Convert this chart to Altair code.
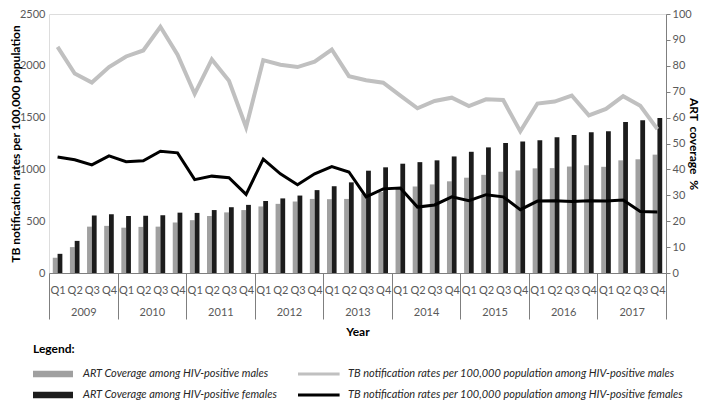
import json
import altair as alt
import pandas as pd

years = ["2009", "2010", "2011", "2012", "2013", "2014", "2015", "2016", "2017"]
quarters = ["Q1", "Q2", "Q3", "Q4"]

# ART coverage (%), right axis
art_males = [5.9, 10.0, 17.9, 18.2, 17.5, 17.8, 17.9, 19.5, 20.4, 22.0, 23.4, 24.3,
             25.7, 26.7, 27.6, 28.6, 28.5, 28.6, 30.7, 31.3, 32.6, 33.4, 34.2, 35.4,
             36.8, 37.9, 39.1, 39.6, 40.4, 40.5, 41.1, 41.6, 41.0, 43.5, 43.9, 45.7]
art_females = [7.4, 12.4, 22.2, 22.7, 22.0, 22.1, 22.3, 23.3, 23.2, 24.3, 25.4, 26.3,
               27.8, 28.8, 29.9, 32.0, 33.5, 35.0, 39.5, 40.8, 42.2, 42.8, 43.5, 45.0,
               46.8, 48.5, 50.2, 50.8, 51.3, 52.4, 53.3, 54.3, 54.7, 58.3, 59.0, 59.8]

# TB notification rates per 100,000, left axis
tb_males = [2182, 1926, 1838, 1988, 2090, 2148, 2377, 2108, 1729, 2062, 1856, 1407,
            2055, 2010, 1988, 2040, 2157, 1900, 1861, 1837, 1713, 1590, 1660, 1692,
            1612, 1676, 1670, 1367, 1636, 1655, 1713, 1522, 1584, 1707, 1614, 1389]
tb_females = [1120, 1093, 1043, 1130, 1074, 1083, 1176, 1160, 901, 935, 920, 759,
              1099, 957, 852, 957, 1028, 975, 735, 812, 821, 636, 657, 735,
              698, 756, 735, 611, 694, 698, 691, 698, 694, 704, 593, 590]

S_ART_M = "ART Coverage among HIV-positive males"
S_ART_F = "ART Coverage among HIV-positive females"
S_TB_M = "TB notification rates per 100,000 population among HIV-positive males"
S_TB_F = "TB notification rates per 100,000 population among HIV-positive females"

rows = []
for i in range(len(art_males)):
    base = dict(idx=i, year=years[i // 4], quarter=quarters[i % 4])
    rows.append(dict(base, series=S_ART_M, kind="bar", value=art_males[i]))
    rows.append(dict(base, series=S_ART_F, kind="bar", value=art_females[i]))
    rows.append(dict(base, series=S_TB_M, kind="line", value=tb_males[i]))
    rows.append(dict(base, series=S_TB_F, kind="line", value=tb_females[i]))
df = pd.DataFrame(rows)

N = len(art_males)
W, H = 617, 259
FONT = "Lato"
LABEL_C = "#595959"
AXIS_C = "#7f7f7f"

order = [S_ART_M, S_ART_F, S_TB_M, S_TB_F]
colors = ["#a0a0a0", "#1c1c1c", "#c0c0c0", "#000000"]
bar_path = "M-1,-0.16H1V0.16H-1Z"
line_path = "M-1.08,-0.075H1.08V0.075H-1.08Z"

def cscale():
    return alt.Scale(domain=order, range=colors)

xscale = alt.Scale(domain=[0, N], nice=False, zero=False)

quarter_axis = alt.Axis(
    orient="bottom", values=[i + 0.5 for i in range(N)],
    labelExpr=json.dumps(quarters) + "[floor(datum.value) % 4]",
    ticks=False, domain=True, domainColor=AXIS_C, grid=False,
    labelPadding=11, labelFontSize=11, labelColor=LABEL_C, labelFont=FONT,
    labelFlush=False, labelOverlap=False, labelAngle=0, title=None,
)
sep_axis = alt.Axis(
    orient="bottom", values=list(range(0, N + 1, 4)), labels=False,
    ticks=True, tickSize=46, tickColor=AXIS_C, domain=False, grid=False, title=None,
)
year_axis = alt.Axis(
    orient="bottom", values=[4 * k + 2 for k in range(len(years))],
    labelExpr=json.dumps(years) + "[floor(datum.value / 4)]",
    ticks=False, domain=False, grid=False,
    labelPadding=33, labelFontSize=11, labelColor=LABEL_C, labelFont=FONT,
    labelFlush=False, labelOverlap=False, labelAngle=0,
    title="Year", titleFontSize=12, titleFontWeight="bold", titleColor="#000000",
    titleFont=FONT, titlePadding=9,
)
left_axis = alt.Axis(
    orient="left", values=list(range(0, 2501, 500)), format="d", ticks=False, domain=False,
    grid=False, labelPadding=4, labelFontSize=11, labelColor=LABEL_C, labelFont=FONT,
    labelFlush=False,
    title="TB notification rates per 100,000 population", titleFontSize=12,
    titleFontWeight="bold", titleColor="#000000", titleFont=FONT,
    titleAngle=270, titleAlign="center", titleBaseline="middle",
    titleX=-34, titleY=H / 2,
)
right_axis = alt.Axis(
    orient="right", values=list(range(0, 101, 10)), format="d", ticks=True, tickSize=4,
    tickColor=AXIS_C, domain=True, domainColor=AXIS_C, grid=False,
    labelPadding=2, labelFontSize=11, labelColor=LABEL_C, labelFont=FONT,
    labelFlush=False,
    title="ART\u00a0 coverage\u00a0 %", titleFontSize=12, titleFontWeight="bold",
    titleColor="#000000", titleFont=FONT, titleAngle=90, titleAlign="center",
    titleBaseline="middle", titleX=27, titleY=H / 2,
)

bars = alt.Chart(df).transform_filter("datum.kind === 'bar'").transform_calculate(
    x0="datum.idx + (datum.series === '%s' ? 0.22 : 0.5)" % S_ART_M,
    x1="datum.idx + (datum.series === '%s' ? 0.5 : 0.78)" % S_ART_M,
    base="0",
).mark_rect().encode(
    x=alt.X("x0:Q", scale=xscale, axis=quarter_axis),
    x2="x1:Q",
    y=alt.Y("value:Q", scale=alt.Scale(domain=[0, 100], nice=False), axis=right_axis),
    y2="base:Q",
    color=alt.Color("series:N", scale=cscale(), legend=None),
)

lines = alt.Chart(df).transform_filter("datum.kind === 'line'").transform_calculate(
    xc="datum.idx + 0.5"
).mark_line().encode(
    x=alt.X("xc:Q", scale=xscale, axis=sep_axis),
    y=alt.Y("value:Q", scale=alt.Scale(domain=[0, 2500], nice=False), axis=left_axis),
    color=alt.Color("series:N", scale=cscale(), legend=None),
    strokeWidth=alt.StrokeWidth("series:N", scale=alt.Scale(domain=[S_TB_M, S_TB_F], range=[4, 3]), legend=None),
    order="idx:Q",
)

legend_kw = dict(
    title="Legend:", orient="none", legendX=-16, legendY=330, columns=2,
    titleFontSize=12, titleFontWeight="bold", titleColor="#000000", titleFont=FONT,
    titlePadding=12, titleAnchor="start",
    labelFontSize=11, labelFontStyle="italic", labelColor="#262626", labelFont=FONT,
    labelLimit=500, labelOffset=10,
    symbolSize=1600, symbolStrokeWidth=0, symbolOpacity=1, clipHeight=12,
    rowPadding=9, columnPadding=20, padding=0,
)
legend_pts = alt.Chart(df).transform_calculate(xc="datum.idx + 0.5").mark_point(
    filled=True, opacity=0
).encode(
    x=alt.X("xc:Q", scale=xscale, axis=year_axis),
    y=alt.Y("value:Q", axis=None),
    color=alt.Color("series:N", scale=cscale(), legend=alt.Legend(**legend_kw)),
    shape=alt.Shape("series:N", scale=alt.Scale(domain=order, range=[bar_path, bar_path, line_path, line_path]),
                    legend=alt.Legend(**legend_kw)),
)

chart = alt.layer(bars, lines, legend_pts).resolve_scale(
    y="independent", color="independent", shape="independent", strokeWidth="independent"
).resolve_legend(
    color="independent", shape="independent"
).resolve_axis(
    x="independent", y="independent"
).properties(
    width=W, height=H,
    autosize=alt.AutoSizeParams(type="none"),
    padding={"left": 41, "top": 6, "right": 693 - 41 - W, "bottom": 392 - 6 - H},
).configure_view(stroke=None).configure(font=FONT, background="white")

chart.save("out.html", embed_options={"renderer": "svg", "actions": False})
